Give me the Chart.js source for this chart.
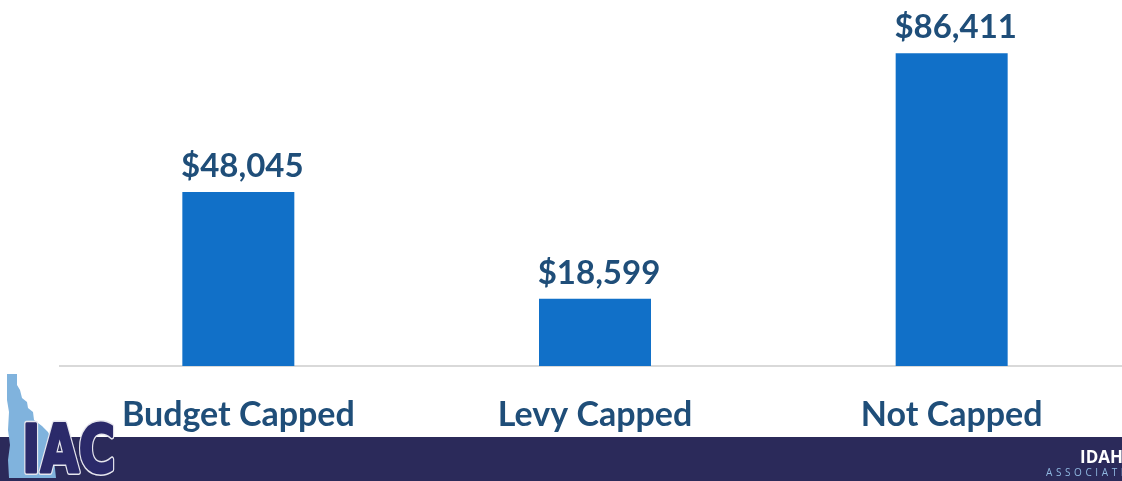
<!DOCTYPE html>
<html>
<head>
<meta charset="utf-8">
<script src="https://cdn.jsdelivr.net/npm/chart.js@4/dist/chart.umd.min.js"></script>
<style>
  html,body{margin:0;padding:0;background:#fff;overflow:hidden;}
  #wrap{position:relative;width:1122px;height:481px;overflow:hidden;}
  #cv{position:absolute;left:0;top:0;}
  #footer{position:absolute;left:0;top:437px;width:1122px;height:44px;background:#2b2a5a;}
  #logo{position:absolute;left:0;top:370px;}
  #org1{position:absolute;left:1080px;top:445px;font:bold 17px "Open Sans",sans-serif;color:#fff;white-space:nowrap;}
  #org2{position:absolute;left:1046px;top:465px;font:10px "Open Sans",sans-serif;color:#8fb7e0;letter-spacing:3.6px;white-space:nowrap;}
</style>
</head>
<body>
<div id="wrap">
  <div id="footer"></div>
  <canvas id="cv" width="1130" height="481"></canvas>
  <svg id="logo" width="130" height="111" viewBox="0 370 130 111">
    <polygon points="7,374 17,374 17,385 20,390 22,398 27,402 28,408 33,412 34,420 38,423 42,426 48,432 52,440 56,478 9,478 8,460 10,445 8,430 9,412 7,400" fill="#80b3dd"/>
    <text x="22" y="472" font-family="DejaVu Sans" font-weight="bold" font-size="66" fill="none" stroke="#e6e6ee" stroke-width="6" stroke-linejoin="round" textLength="93" lengthAdjust="spacingAndGlyphs">IAC</text>
    <text x="22" y="472" font-family="DejaVu Sans" font-weight="bold" font-size="66" fill="#2b2a6a" stroke="#2b2a6a" stroke-width="3" stroke-linejoin="round" textLength="93" lengthAdjust="spacingAndGlyphs">IAC</text>
  </svg>
  <div id="org1">IDAHO</div>
  <div id="org2">ASSOCIATION</div>
</div>
<script>
const categories = ["Budget Capped", "Levy Capped", "Not Capped"];
const values = [48045, 18599, 86411];
const valueLabels = ["$48,045", "$18,599", "$86,411"];

const labelPlugin = {
  id: 'valueLabels',
  afterDatasetsDraw(chart) {
    const ctx = chart.ctx;
    const meta = chart.getDatasetMeta(0);
    ctx.save();
    ctx.font = 'bold 33px Lato, "Open Sans", sans-serif';
    ctx.fillStyle = '#1f4e79';
    ctx.textAlign = 'center';
    ctx.textBaseline = 'alphabetic';
    meta.data.forEach((bar, i) => {
      ctx.fillText(valueLabels[i], bar.x + 4, bar.y - 15);
    });
    ctx.restore();
  }
};

new Chart(document.getElementById('cv'), {
  type: 'bar',
  data: {
    labels: categories,
    datasets: [{
      data: values,
      backgroundColor: '#1170c8',
      borderWidth: 0,
      categoryPercentage: 1,
      barPercentage: 0.314
    }]
  },
  options: {
    responsive: false,
    animation: false,
    devicePixelRatio: 1,
    layout: { padding: { left: 60, top: 4, right: 0, bottom: 0 } },
    plugins: { legend: { display: false }, tooltip: { enabled: false } },
    scales: {
      y: { display: false, min: 0, max: 100000 },
      x: {
        grid: { display: false, drawTicks: false },
        border: { display: true, color: '#d9d9d9', width: 2 },
        ticks: {
          color: '#1f4e79',
          font: { family: 'Lato, "Open Sans", sans-serif', size: 34, weight: 'bold' },
          padding: 29
        },
        afterFit(scale) { scale.height = 115; }
      }
    }
  },
  plugins: [labelPlugin]
});
</script>
</body>
</html>
